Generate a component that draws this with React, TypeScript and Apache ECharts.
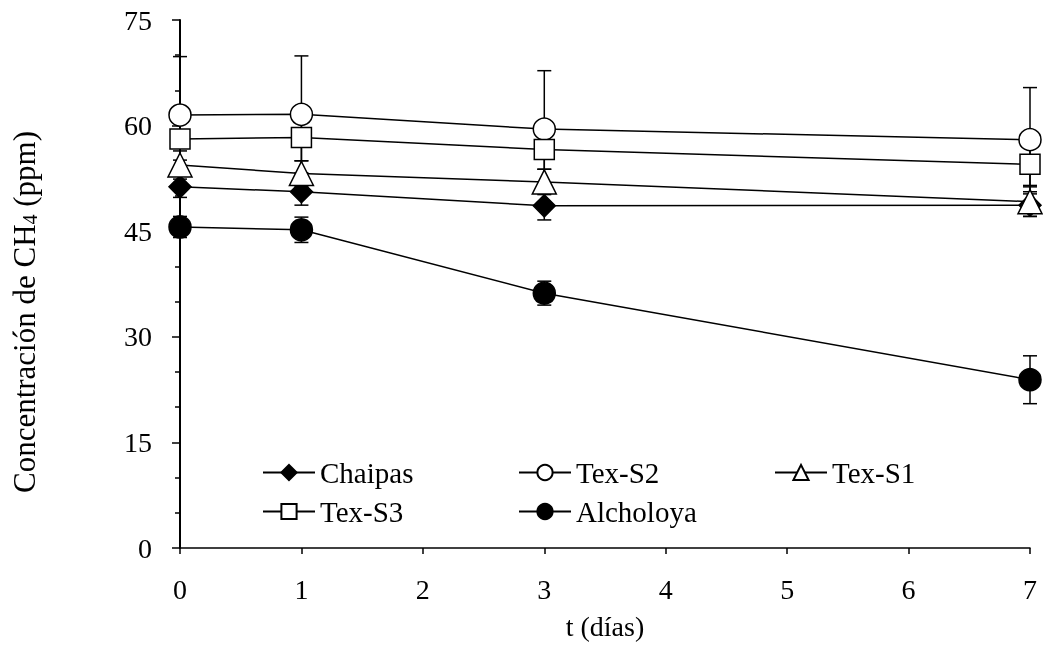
import React, { useEffect, useRef } from "react";
import * as echarts from "echarts";

const days = [0, 1, 3, 7];
const seriesNames = ["Chaipas", "Tex-S2", "Tex-S1", "Tex-S3", "Alcholoya"];
const chaipas = [51.3, 50.6, 48.6, 48.7];
const texS2 = [61.5, 61.6, 59.5, 58.0];
const texS1 = [54.4, 53.2, 52.0, 49.2];
const texS3 = [58.1, 58.3, 56.6, 54.5];
const alcholoya = [45.6, 45.2, 36.2, 23.9];
const chaipasErr = [1.5, 1.9, 2.0, 1.6];
const texS2Err = [8.3, 8.3, 8.3, 7.4];
const texS1Err = [2.0, 1.8, 1.8, 2.1];
const texS3Err = [3.0, 3.3, 2.8, 3.0];
const alcholoyaErr = [1.5, 1.8, 1.7, 3.4];
const yTicks = [0, 15, 30, 45, 60, 75];

const FONT = "'Liberation Serif', 'Times New Roman', serif";

export default function App() {
  const ref = useRef<HTMLDivElement>(null);
  useEffect(() => {
    if (!ref.current) return;
    const chart = echarts.init(ref.current, null, { renderer: "svg" });
    const values = [chaipas, texS2, texS1, texS3, alcholoya];
    const errs = [chaipasErr, texS2Err, texS1Err, texS3Err, alcholoyaErr];
    const symbols = ["diamond", "circle", "triangle", "rect", "circle"];
    const sizes = [22, 22, 24, 20, 22];
    const fills = ["#000", "#fff", "#fff", "#fff", "#000"];

    const errSeries = values.map((v, i) => ({
      type: "custom",
      name: seriesNames[i] + "-err",
      z: 1,
      clip: false,
      silent: true,
      data: days.map((d, j) => [d, v[j], errs[i][j]]),
      encode: { x: 0, y: 1 },
      renderItem: (params: any, api: any) => {
        const x = api.value(0);
        const y = api.value(1);
        const e = api.value(2);
        const top = api.coord([x, y + e]);
        const bot = api.coord([x, y - e]);
        const hw = 7;
        const st = { stroke: "#000", lineWidth: 1.5 };
        return {
          type: "group",
          children: [
            { type: "line", shape: { x1: top[0], y1: top[1], x2: bot[0], y2: bot[1] }, style: st },
            { type: "line", shape: { x1: top[0] - hw, y1: top[1], x2: top[0] + hw, y2: top[1] }, style: st },
            { type: "line", shape: { x1: bot[0] - hw, y1: bot[1], x2: bot[0] + hw, y2: bot[1] }, style: st },
          ],
        };
      },
    }));

    const lineSeries = values.map((v, i) => ({
      type: "line",
      name: seriesNames[i],
      z: 2,
      data: days.map((d, j) => [d, v[j]]),
      symbol: symbols[i],
      symbolSize: sizes[i],
      showAllSymbol: true,
      lineStyle: { color: "#000", width: 1.5 },
      itemStyle: { color: fills[i], borderColor: "#000", borderWidth: 1.5, opacity: 1 },
      emphasis: { disabled: true },
    }));

    const legendPos = [
      [262, 458],
      [518, 458],
      [774, 458],
      [262, 497],
      [518, 497],
    ];
    const legends = seriesNames.map((n, i) => ({
      orient: "horizontal",
      left: legendPos[i][0],
      top: legendPos[i][1],
      padding: 0,
      itemWidth: 52,
      itemHeight: 19,
      itemGap: 0,
      textStyle: { fontFamily: FONT, fontSize: 29, color: "#000" },
      selectedMode: false,
      data: [n],
    }));

    chart.setOption({
      animation: false,
      grid: { left: 180, right: 13, top: 20, bottom: 97, containLabel: false },
      xAxis: {
        type: "value",
        min: 0,
        max: 7,
        interval: 1,
        axisLine: { show: true, lineStyle: { color: "#000", width: 1.5 } },
        axisTick: { show: true, inside: false, length: 6, lineStyle: { color: "#000", width: 1.5 } },
        splitLine: { show: false },
        axisLabel: { fontFamily: FONT, fontSize: 28, color: "#000", margin: 27 },
      },
      yAxis: {
        type: "value",
        min: 0,
        max: 75,
        interval: 15,
        axisLine: { show: true, lineStyle: { color: "#000", width: 2 } },
        axisTick: { show: true, inside: false, length: 8, lineStyle: { color: "#000", width: 1.5 } },
        minorTick: { show: true, splitNumber: 3, length: 5, lineStyle: { color: "#000", width: 1.5 } },
        splitLine: { show: false },
        minorSplitLine: { show: false },
        axisLabel: {
          fontFamily: FONT,
          fontSize: 28,
          color: "#000",
          margin: 28,
          formatter: (v: number) => (yTicks.includes(v) ? String(v) : ""),
        },
      },
      legend: legends,
      graphic: [
        {
          type: "text",
          x: 24,
          y: 312,
          rotation: Math.PI / 2,
          style: {
            text: "Concentración de CH{sub|4} (ppm)",
            fontFamily: FONT,
            fontSize: 31,
            fill: "#000",
            align: "center",
            verticalAlign: "middle",
            rich: {
              sub: { fontFamily: FONT, fontSize: 20, fill: "#000", verticalAlign: "bottom", padding: [11, 0, 0, 0] },
            },
          },
        },
        {
          type: "text",
          x: 605,
          y: 626,
          style: {
            text: "t (días)",
            fontFamily: FONT,
            fontSize: 28,
            fill: "#000",
            align: "center",
            verticalAlign: "middle",
          },
        },
      ],
      series: [...errSeries, ...lineSeries],
    });
    return () => chart.dispose();
  }, []);
  return (
    <div
      ref={ref}
      style={{ position: "fixed", left: 0, top: 0, width: 1043, height: 645 }}
    />
  );
}
